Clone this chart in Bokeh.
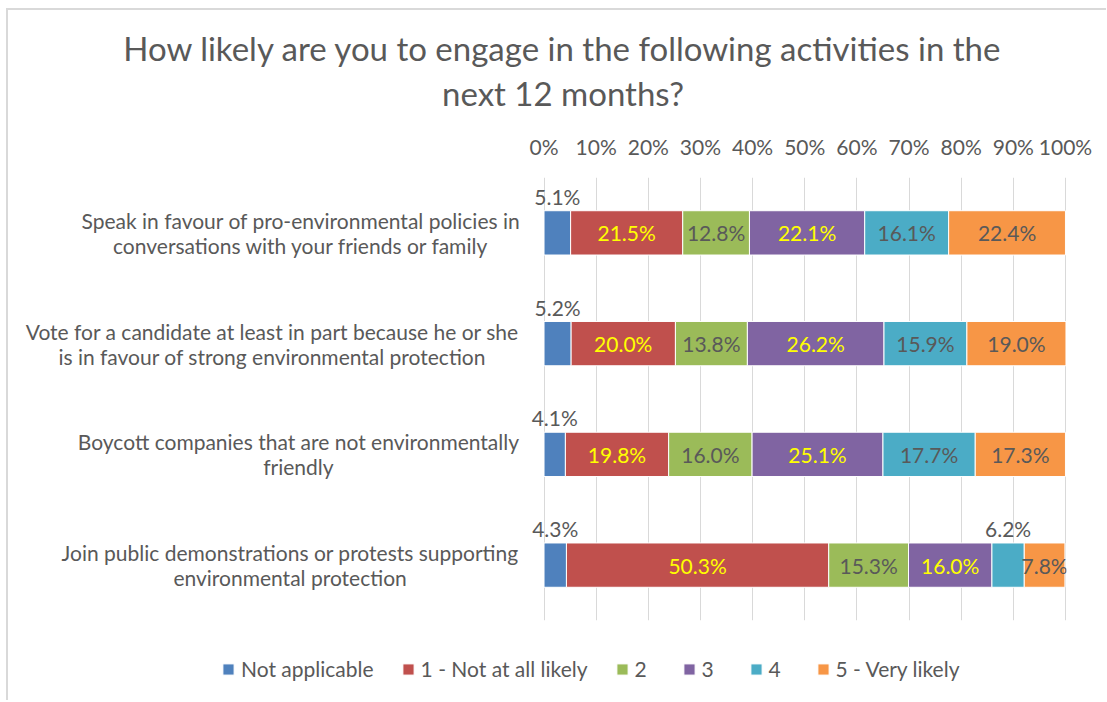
from bokeh.plotting import figure
from bokeh.layouts import column
from bokeh.models import Range1d, FactorRange, FixedTicker, Legend, LegendItem, ColumnDataSource
from bokeh.transform import dodge
from bokeh.core.properties import value
from bokeh.embed import file_html
from bokeh.resources import INLINE

# ---------------- data ----------------
categories = [
    "Speak in favour of pro-environmental policies in\nconversations with your friends or family",
    "Vote for a candidate at least in part because he or she\nis in favour of strong environmental protection",
    "Boycott companies that are not environmentally\nfriendly",
    "Join public demonstrations or protests supporting\nenvironmental protection",
]
series_names = ["Not applicable", "1 - Not at all likely", "2", "3", "4", "5 - Very likely"]
not_applicable = [5.1, 5.2, 4.1, 4.3]
not_at_all_likely = [21.5, 20.0, 19.8, 50.3]
likely_2 = [12.8, 13.8, 16.0, 15.3]
likely_3 = [22.1, 26.2, 25.1, 16.0]
likely_4 = [16.1, 15.9, 17.7, 6.2]
very_likely = [22.4, 19.0, 17.3, 7.8]
tick_values = [0, 10, 20, 30, 40, 50, 60, 70, 80, 90, 100]
tick_labels = ["0%", "10%", "20%", "30%", "40%", "50%", "60%", "70%", "80%", "90%", "100%"]
title_lines = ["How likely are you to engage in the following activities in the", "next 12 months?"]

# ---------------- style ----------------
FONT = "Lato"
GREY = "#595959"
FS = "21px"
W = 1098
colors = ["#4F81BD", "#C0504D", "#9BBB59", "#8064A2", "#4BACC6", "#F79646"]
inside_text_colors = [GREY, "#FFFF00", GREY, "#FFFF00", GREY, GREY]
label_centers = [-46.6, -52.1, -47.1, -48.7]  # layout: centre of each category label block (axis units)
TITLE_H = 120
title_x = 569.5                               # layout: title centre (title strip units)
title_y = [82.5, 37.5]                        # layout: title line centres (title strip units)

keys = ["na", "s1", "s2", "s3", "s4", "s5"]
series = [not_applicable, not_at_all_likely, likely_2, likely_3, likely_4, very_likely]
data = dict(category=categories)
for k, s in zip(keys, series):
    data[k] = s
source = ColumnDataSource(data)


def bare(fig):
    fig.axis.visible = False
    fig.grid.visible = False
    fig.outline_line_color = None
    fig.border_fill_color = "white"
    fig.background_fill_color = "white"


# ---------------- title strip ----------------
t = figure(width=W, height=TITLE_H, x_range=Range1d(0, W), y_range=Range1d(0, TITLE_H),
           output_backend="svg", toolbar_location=None,
           min_border_left=0, min_border_right=0, min_border_top=0, min_border_bottom=0)
bare(t)
t.text(x=[title_x, title_x], y=title_y, text=title_lines, text_align="center", text_baseline="middle",
       text_font=value(FONT), text_font_size="33px", text_color=GREY)

# ---------------- main chart ----------------
p = figure(width=W, height=502,
           x_range=Range1d(-100.4, 100.2),
           y_range=FactorRange(factors=categories[::-1]),
           x_axis_location="above",
           output_backend="svg", toolbar_location=None,
           min_border_left=12, min_border_right=40,
           min_border_top=46, min_border_bottom=12)
p.outline_line_color = None
p.background_fill_color = "white"
p.border_fill_color = "white"

renderers = p.hbar_stack(keys, y="category", height=0.4, color=colors,
                         line_color="white", line_width=1, source=source)

# segment labels
ins = dict(x=[], y=[], text=[], color=[])
outs = dict(x=[], y=[], text=[], color=[])
for j, k in enumerate(keys):
    for i, cat in enumerate(categories):
        start = sum(data[kk][i] for kk in keys[:j])
        v = data[k][i]
        target = outs if v < 7 else ins
        target["x"].append(start + v / 2)
        target["y"].append(cat)
        target["text"].append(f"{v:.1f}%")
        target["color"].append(GREY if v < 7 else inside_text_colors[j])

common = dict(text_align="center", text_baseline="middle",
              text_font=value(FONT), text_font_size=FS)
p.text(x="x", y="y", text="text", text_color="color", source=ColumnDataSource(ins), **common)
p.text(x="x", y=dodge("y", 0.33, range=p.y_range), text="text", text_color="color",
       source=ColumnDataSource(outs), **common)

# category labels
p.text(x=label_centers, y=categories, text=categories, text_color=GREY,
       text_line_height=1.0, **common)

# grid / axes
p.ygrid.visible = False
p.yaxis.visible = False
p.xgrid.ticker = FixedTicker(ticks=tick_values)
p.xgrid.grid_line_color = "#D9D9D9"
ax = p.xaxis[0]
ax.ticker = FixedTicker(ticks=tick_values)
ax.major_label_overrides = {v: l for v, l in zip(tick_values, tick_labels)}
ax.axis_line_color = None
ax.major_tick_line_color = None
ax.minor_tick_line_color = None
ax.major_label_text_font = FONT
ax.major_label_text_font_size = FS
ax.major_label_text_color = GREY
ax.major_label_standoff = 13

# ---------------- legend strip (hidden renderers of the same series feed the legend) ----------------
q = figure(width=W, height=68, x_range=Range1d(0, 100), y_range=FactorRange(factors=categories[::-1]),
           output_backend="svg", toolbar_location=None,
           min_border_left=0, min_border_right=0, min_border_top=0, min_border_bottom=0)
bare(q)
legend_renderers = q.hbar_stack(keys, y="category", height=0.4, color=colors,
                                line_color="white", line_width=1, source=source)
for r in legend_renderers:
    r.visible = False
legend = Legend(items=[LegendItem(label=n, renderers=[r]) for n, r in zip(series_names, legend_renderers)],
                orientation="horizontal", location=(201, 19),
                glyph_width=14, glyph_height=14, label_standoff=6, spacing=27,
                label_text_font=FONT, label_text_font_size=FS, label_text_color=GREY,
                inactive_fill_alpha=0, click_policy="none",
                border_line_color=None, background_fill_alpha=0, padding=0, margin=0)
q.add_layout(legend, "center")

layout = column(t, p, q, margin=(8, 0, 0, 6),
                styles={"border-left": "2px solid #D9D9D9", "border-top": "2px solid #D9D9D9"})

open("out.html", "w").write(file_html(layout, INLINE))
